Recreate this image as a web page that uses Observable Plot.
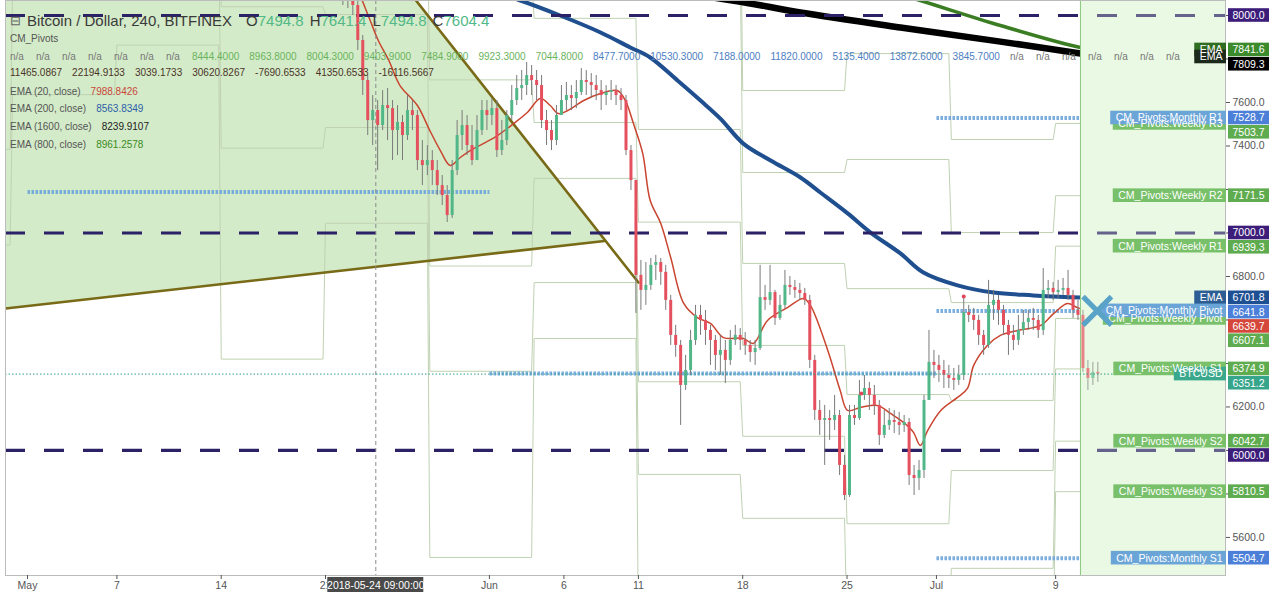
<!DOCTYPE html>
<html><head><meta charset="utf-8">
<script src="https://cdn.jsdelivr.net/npm/d3@7"></script>
<script src="https://cdn.jsdelivr.net/npm/@observablehq/plot@0.6"></script>
<style>
html,body{margin:0;padding:0;background:#fff;}
#wrap{position:relative;width:1280px;height:595px;overflow:hidden;font-family:"Liberation Sans",Arial,sans-serif;}
#legend{position:absolute;left:0;top:0;width:1280px;height:160px;pointer-events:none;}
.row{position:absolute;left:10px;white-space:nowrap;font-size:10px;line-height:14px;display:flex;gap:10px;color:#555;}
.title{left:10px;font-size:15px;line-height:16px;color:#3a3a3a;gap:0;}
.ico{display:inline-block;width:17px;font-size:13px;color:#666;}
.ohlc{display:inline-block;margin-left:6px;}
.g{color:#53b987;}
.wk{color:#69b35c;}
.mo{color:#4c7ec2;}
.na{color:#777;display:inline-block;min-width:16px;}
.yr{color:#4a3428;}
</style></head>
<body><div id="wrap"><div id="chart"></div><div id="legend"></div></div>
<script>
// ---------------- DATA ----------------
const xDomain = ["2018-04-29T12:34:00Z", "2018-07-20T09:36:00Z"];
const yDomain = [5425, 8069];
const yTicks = [5600, 5800, 6000, 6200, 6400, 6600, 6800, 7000, 7200, 7400, 7600, 7800, 8000];
const xTickDates = ["2018-05-01","2018-05-07","2018-05-14","2018-05-21","2018-06-01","2018-06-06","2018-06-11","2018-06-18","2018-06-25","2018-07-01","2018-07-09"];
const xTickLabels = ["May","7","14","21","Jun","6","11","18","25","Jul","9"];

// 8-hour candles starting 2018-05-22 00:00 UTC
const candleStart = "2018-05-22T00:00:00Z";
const candleHours = 8;
const firstOpen = 8150;
const close = [
8115,8092,8046,7885,7701,7517,7563,7494,7586,7572,
7471,7508,7448,7563,7540,7333,7310,7333,7287,7218,
7172,7080,7287,7448,7494,7402,7333,7471,7563,7540,
7572,7379,7425,7540,7609,7664,7678,7724,7701,7678,
7517,7471,7425,7540,7609,7632,7618,7646,7701,7692,
7678,7655,7632,7646,7655,7632,7609,7379,7241,6805,
6736,6759,6851,6864,6819,6690,6529,6483,6299,6368,
6506,6621,6598,6552,6506,6437,6460,6414,6506,6529,
6506,6483,6450,6469,6703,6690,6726,6607,6667,6759,
6749,6736,6722,6690,6414,6184,6138,6147,6138,6161,
5931,5793,6161,6147,6253,6285,6253,6207,6069,6115,
6138,6129,6115,6129,5885,5871,5908,6230,6405,6391,
6368,6345,6331,6322,6345,6634,6621,6598,6529,6483,
6667,6690,6644,6575,6529,6506,6552,6588,6607,6598,
6552,6736,6745,6726,6736,6745,6713,6644,6621,6377,
6331,6359,6351.2];
const high = [
8184,8161,8115,8069,7908,7724,7632,7609,7655,7664,
7609,7586,7540,7632,7609,7563,7425,7402,7379,7333,
7264,7218,7333,7517,7563,7540,7494,7540,7609,7609,
7618,7609,7517,7563,7678,7724,7747,7784,7770,7747,
7724,7563,7517,7586,7678,7692,7678,7701,7756,7747,
7733,7724,7701,7678,7701,7678,7664,7632,7402,7241,
6874,6864,6883,6897,6883,6851,6713,6575,6506,6437,
6552,6667,6667,6644,6575,6529,6529,6506,6552,6575,
6561,6542,6506,6506,6851,6759,6851,6736,6713,6828,
6800,6782,6768,6745,6713,6437,6230,6207,6184,6253,
6184,5977,6207,6207,6322,6345,6313,6299,6230,6184,
6193,6184,6175,6161,6147,5931,5954,6253,6552,6460,
6437,6414,6391,6377,6391,6713,6667,6653,6621,6552,
6782,6736,6713,6667,6598,6575,6621,6644,6644,6653,
6621,6837,6782,6772,6782,6791,6828,6736,6690,6644,
6414,6405,6405];
const low = [
8046,8032,8000,7839,7632,7448,7402,7287,7471,7425,
7333,7356,7333,7425,7471,7287,7218,7264,7218,7172,
7126,7048,7067,7264,7379,7356,7310,7333,7448,7471,
7494,7347,7356,7402,7517,7586,7609,7632,7632,7609,
7480,7402,7379,7402,7540,7563,7563,7572,7632,7632,
7618,7609,7563,7586,7609,7586,7563,7356,7195,6630,
6644,6667,6736,6782,6759,6644,6483,6428,6115,6276,
6345,6483,6529,6483,6391,6368,6345,6308,6391,6483,
6460,6437,6405,6391,6460,6644,6667,6575,6598,6650,
6713,6699,6690,6667,6377,6138,6069,5931,6046,6092,
5885,5770,5784,6115,6138,6230,6184,6161,6023,6055,
6092,6078,6069,6083,5839,5793,5816,5871,6230,6331,
6313,6285,6285,6276,6299,6322,6588,6552,6483,6437,
6469,6598,6575,6529,6437,6460,6483,6529,6552,6552,
6515,6529,6699,6690,6699,6713,6690,6607,6598,6359,
6276,6299,6313];

// EMA lines (time, value)
const ema20Time = ["2018-05-23T08:00","2018-05-24T00:00","2018-05-24T13:00","2018-05-25T06:00","2018-05-26T00:00","2018-05-27T04:00","2018-05-28T00:00","2018-05-28T17:00","2018-05-29T09:00","2018-05-30T01:00","2018-05-30T17:00","2018-05-31T14:00","2018-06-01T13:00","2018-06-02T15:00","2018-06-03T13:00","2018-06-04T10:00","2018-06-05T02:00","2018-06-05T15:00","2018-06-06T06:00","2018-06-07T08:00","2018-06-08T11:00","2018-06-09T14:00","2018-06-10T03:00","2018-06-10T16:00","2018-06-11T07:00","2018-06-11T19:00","2018-06-12T12:00","2018-06-13T04:00","2018-06-14T01:00","2018-06-14T23:00","2018-06-15T20:00","2018-06-16T17:00","2018-06-18T01:00","2018-06-18T17:00","2018-06-19T16:00","2018-06-21T00:00","2018-06-22T02:00","2018-06-22T13:00","2018-06-23T17:00","2018-06-24T13:00","2018-06-25T01:00","2018-06-25T22:00","2018-06-27T01:00","2018-06-27T22:00","2018-06-28T19:00","2018-06-29T11:00","2018-06-29T22:00","2018-06-30T10:00","2018-07-01T07:00","2018-07-02T10:00","2018-07-03T02:00","2018-07-03T12:00","2018-07-04T10:00","2018-07-05T07:00","2018-07-06T11:00","2018-07-08T00:00","2018-07-08T21:00","2018-07-09T19:00","2018-07-10T11:00","2018-07-11T00:00","2018-07-11T21:00"];
const ema20Value = [8092,7977,7885,7793,7678,7586,7471,7379,7310,7347,7379,7411,7448,7503,7554,7618,7586,7549,7563,7609,7641,7655,7609,7503,7365,7149,7044,6887,6676,6611,6584,6519,6515,6492,6598,6657,6699,6667,6460,6276,6184,6198,6207,6170,6129,6083,6023,6092,6184,6244,6285,6391,6483,6529,6552,6575,6630,6676,6657,6645,6639.7];
const ema200Time = ["2018-05-31T10:00","2018-06-03T02:00","2018-06-05T18:00","2018-06-08T11:00","2018-06-10T11:00","2018-06-11T19:00","2018-06-13T15:00","2018-06-15T04:00","2018-06-16T12:00","2018-06-18T01:00","2018-06-19T21:00","2018-06-21T21:00","2018-06-23T05:00","2018-06-25T01:00","2018-06-26T14:00","2018-06-28T14:00","2018-06-30T03:00","2018-07-02T10:00","2018-07-04T20:00","2018-07-07T12:00","2018-07-10T16:00","2018-07-12T00:00"];
const ema200Value = [8124,8069,8000,7922,7853,7807,7701,7609,7526,7411,7333,7255,7186,7090,7002,6906,6818,6759,6726,6713,6703,6701.8];
const ema1600Time = ["2018-06-13T20:00","2018-06-18T03:00","2018-06-21T21:00","2018-06-28T14:00","2018-07-05T07:00","2018-07-10T16:00","2018-07-12T00:00"];
const ema1600Value = [8106,8060,8014,7945,7880,7825,7809.3];
const ema800Time = ["2018-06-27T06:00","2018-06-29T22:00","2018-07-05T07:00","2018-07-10T16:00","2018-07-12T00:00"];
const ema800Value = [8124,8069,7954,7853,7841.6];

// Weekly pivots (CM_Pivots)
const weekStart = ["2018-04-23","2018-04-30","2018-05-07","2018-05-14","2018-05-21","2018-05-28","2018-06-04","2018-06-11","2018-06-18","2018-06-25","2018-07-02","2018-07-09"];
const weekR3 = [10575,10966,11284,11280,9923.3,9528,8723,8636,7655,7825,7430,7503.7];
const weekR2 = [9805,10363,10637,10630,9403.9,9044,8244,8210,7278,7338,7002,7171.5];
const weekR1 = [9365,9856,10144,9660,8963.8,8188,7987,7476,6860,6744,6680,6939.3];
const weekP  = [8595,9253,9497,9010,8444.4,7704,7508,7050,6483,6257,6230,6607.1];
const weekS1 = [8155,8746,9004,8040,8004.3,6848,7251,6316,6065,5663,5908,6374.9];
const weekS2 = [7385,8143,8357,7390,7484.9,6364,6772,5890,5688,5176,5458,6042.7];
const weekS3 = [6945,7636,7864,6420,7044.8,5508,6515,5156,5270,4582,5122,5810.5];
const pivotEnd = "2018-07-12T00:00:00Z";

// Monthly pivot levels visible (dotted)
const monthStart = ["2018-05-01","2018-06-01","2018-07-01","2018-07-01","2018-07-01"];
const monthEnd   = ["2018-06-01","2018-07-01","2018-07-12","2018-07-12","2018-07-12"];
const monthLevel = [7188.0, 6354, 7528.7, 6641.8, 5504.7];

// Trend lines (olive) and shaded triangle
const diagTime = ["2018-04-29T12:34:00Z","2018-06-11T00:00:00Z"];
const diagValue = [10463, 6772];
const lowTime = ["2018-04-29T12:34:00Z","2018-06-08T17:17:00Z"];
const lowValue = [6653, 6963];

const roundLevels = [6000, 7000, 8000];
const lastPrice = 6351.2;
const futureStart = "2018-07-10T16:00:00Z";
const crossTime = "2018-05-24T09:00:00Z";
const crossLabel = "2018-05-24 09:00:00";
const alertTime = ["2018-06-25T23:00:00Z","2018-07-02T20:00:00Z"];
const alertValue = [6262, 6708];
const markerTime = "2018-07-11T19:00:00Z";
const markerValue = 6641.8;

// Right scale labels
const labelValues = [8000, 7841.6, 7809.3, 7528.7, 7503.7, 7171.5, 7000, 6939.3, 6701.8, 6641.8, 6639.7, 6607.1, 6374.9, 6351.2, 6042.7, 6000, 5810.5, 5504.7];
const labelKinds  = ["level","ema800","ema1600","monthly","weekly","weekly","level","weekly","ema200","monthly","ema20","weekly","weekly","price","weekly","level","weekly","monthly"];
const labelTags   = ["","EMA","EMA","CM_Pivots:Monthly R1","CM_Pivots:Weekly R3","CM_Pivots:Weekly R2","","CM_Pivots:Weekly R1","EMA","CM_Pivots:Monthly Pivot","","CM_Pivots:Weekly Pivot","CM_Pivots:Weekly S1","BTCUSD","CM_Pivots:Weekly S2","","CM_Pivots:Weekly S3","CM_Pivots:Monthly S1"];

// Legend texts
const titleText = "Bitcoin / Dollar, 240, BITFINEX";
const ohlcKeys = ["O","H","L","C"];
const ohlcValues = ["7494.8","7641.4","7494.8","7604.4"];
const indicatorName = "CM_Pivots";
const dailyLegend = ["n/a","n/a","n/a","n/a","n/a","n/a","n/a"];
const weeklyLegend = ["8444.4000","8963.8000","8004.3000","9403.9000","7484.9000","9923.3000","7044.8000"];
const monthlyLegend = ["8477.7000","10530.3000","7188.0000","11820.0000","5135.4000","13872.6000","3845.7000"];
const yearlyLegend = ["n/a","n/a","n/a","n/a","n/a","n/a","n/a"];
const extraLegend = ["11465.0867","22194.9133","3039.1733","30620.8267","-7690.6533","41350.6533","-16116.5667"];
const emaNames = ["EMA (20, close)","EMA (200, close)","EMA (1600, close)","EMA (800, close)"];
const emaLegendValues = ["7988.8426","8563.8349","8239.9107","8961.2578"];

// ---------------- BUILD ----------------
const T = s => new Date(/Z$/.test(s) ? s : (s.length === 10 ? s + "T00:00:00Z" : s + ":00Z"));
const X0 = T(xDomain[0]), X1 = T(xDomain[1]);
const H = 3600e3;

const candles = close.map((c, i) => {
  const start = +T(candleStart) + i * candleHours * H;
  return {t: new Date(start + candleHours * H / 2), o: i ? close[i - 1] : firstOpen, h: high[i], l: low[i], c};
});
const line = (ts, vs) => ts.map((t, i) => ({t: T(t), v: vs[i]}));
const ema20 = line(ema20Time, ema20Value), ema200 = line(ema200Time, ema200Value);
const ema1600 = line(ema1600Time, ema1600Value), ema800 = line(ema800Time, ema800Value);

const levelSets = {R3: weekR3, R2: weekR2, R1: weekR1, P: weekP, S1: weekS1, S2: weekS2, S3: weekS3};
const pivotRows = [];
for (const [name, arr] of Object.entries(levelSets)) {
  weekStart.forEach((ws, w) => {
    const s = T(ws);
    const e = w + 1 < weekStart.length ? T(weekStart[w + 1]) : T(pivotEnd);
    pivotRows.push({k: name, t: s, v: arr[w]});
    pivotRows.push({k: name, t: new Date(+e - 4 * H), v: arr[w]});
  });
}
const monthRows = monthLevel.map((v, i) => ({t1: T(monthStart[i]), t2: T(monthEnd[i]), v}));
const triangle = [
  {t: T(lowTime[0]), lo: lowValue[0], hi: diagValue[0]},
  {t: T(lowTime[1]), lo: lowValue[1], hi: lowValue[1]}
];
const trendRows = [...line(diagTime, diagValue).map(d => ({...d, k: "a"})), ...line(lowTime, lowValue).map(d => ({...d, k: "b"}))];

const W = 1280, HT = 595, mL = 5, mR = 55, mT = 0, mB = 20;
const xS = d3.scaleUtc().domain([X0, X1]).range([mL, W - mR]);
const yS = d3.scaleLinear().domain(yDomain).range([HT - mB, mT]);

// Right labels layout
const valueBg = {level:"#3c1e7a", ema800:"#3b8a2b", ema1600:"#000000", monthly:"#4b7fd8", weekly:"#5fac50", ema200:"#1f4f93", ema20:"#d4473a", price:"#37a58b"};
const tagBg = {ema800:"#2f6d22", ema1600:"#1c2a1c", monthly:"#6ba5d8", weekly:"#78c06a", ema200:"#2c5d93", price:"#3aa88c"};
const tagLayer = {weekly:0, ema800:1, monthly:2, ema1600:2, ema200:2, price:2, ema20:2, level:2};
const order = labelValues.map((v, i) => i).sort((a, b) => labelValues[b] - labelValues[a]);
const placed = new Array(labelValues.length);
let prev = -Infinity;
for (const i of order) { const p = Math.max(yS(labelValues[i]), prev + 14.3); placed[i] = p; prev = p; }
const boxH = 6.8;
const valueBoxes = labelValues.map((v, i) => ({
  y1: yS.invert(placed[i] - boxH), y2: yS.invert(placed[i] + boxH), yc: yS.invert(placed[i]),
  x1: xS.invert(W - mR + 3), x2: xS.invert(W - mR + 44), xt: xS.invert(W - mR + 7),
  text: v.toFixed(1), bg: valueBg[labelKinds[i]]
}));
// axis tick labels fully covered by a value box are left blank, as on the original scale
const coveredTick = v => placed.some(p => Math.abs(p - yS(v)) < boxH);
const ctx = document.createElement("canvas").getContext("2d");
ctx.font = "10.5px 'Liberation Sans'";
const tagBoxes = labelTags.map((tag, i) => ({tag, i})).filter(d => d.tag)
  .sort((a, b) => tagLayer[labelKinds[a.i]] - tagLayer[labelKinds[b.i]])
  .map(({tag, i}) => {
    const w = ctx.measureText(tag).width;
    const py = yS(labelValues[i]);
    return {
      x1: xS.invert(W - mR + 1 - w - 9), x2: xS.invert(W - mR + 1), xt: xS.invert(W - mR - 3),
      y1: yS.invert(py - boxH), y2: yS.invert(py + boxH), yc: labelValues[i],
      text: tag, bg: tagBg[labelKinds[i]]
    };
  });

const tickMap = new Map(xTickDates.map((d, i) => [+T(d), xTickLabels[i]]));
const up = d => d.c >= d.o;

const chart = Plot.plot({
  width: W, height: HT, marginTop: mT, marginBottom: mB, marginLeft: mL, marginRight: mR,
  style: {fontFamily: "'Liberation Sans', Arial, sans-serif", background: "#ffffff", overflow: "visible"},
  x: {type: "utc", domain: [X0, X1], axis: null},
  y: {domain: yDomain, axis: null},
  marks: [
    Plot.areaY(triangle, {x: "t", y1: "lo", y2: "hi", fill: "#d4ebc9", clip: true}),
    Plot.line(pivotRows, {x: "t", y: "v", z: "k", stroke: "#bfd2b2", strokeWidth: 1, clip: true}),
    Plot.link(monthRows, {x1: "t1", x2: "t2", y1: "v", y2: "v", stroke: "#6ea6dc", strokeWidth: 4, strokeDasharray: "2.6,1.4", strokeOpacity: 0.9, clip: true}),
    Plot.line(trendRows, {x: "t", y: "v", z: "k", stroke: "#786a16", strokeWidth: 2.6, clip: true}),
    Plot.line(ema200, {x: "t", y: "v", stroke: "#1f4f8e", strokeWidth: 4, curve: "catmull-rom", clip: true}),
    Plot.line(ema1600, {x: "t", y: "v", stroke: "#000000", strokeWidth: 6.5, curve: "catmull-rom", clip: true}),
    Plot.line(ema800, {x: "t", y: "v", stroke: "#3a7d23", strokeWidth: 3.5, curve: "catmull-rom", clip: true}),
    Plot.line(ema20, {x: "t", y: "v", stroke: "#c9452f", strokeWidth: 1.5, curve: "catmull-rom", clip: true}),
    Plot.rect([{a: T(futureStart), b: X1}], {x1: "a", x2: "b", fill: "#eafae3"}),
    Plot.ruleX([T(futureStart)], {stroke: "#62b553", strokeWidth: 1}),
    Plot.ruleY(roundLevels, {stroke: "#2b2166", strokeWidth: 3.2, strokeDasharray: "20,19"}),
    Plot.ruleX([T(crossTime)], {stroke: "#8a8a8a", strokeWidth: 1, strokeDasharray: "4,3"}),
    Plot.ruleX(candles, {x: "t", y1: "l", y2: "h", stroke: "#7a7a7a", strokeWidth: 1, clip: true}),
    Plot.ruleX(candles, {x: "t", y1: "o", y2: "c", stroke: d => up(d) ? "#52b788" : "#e5505e", strokeWidth: 3, clip: true}),
    Plot.rect([{a: T(futureStart), b: X1}], {x1: "a", x2: "b", fill: "#eafae3", fillOpacity: 0.3}),
    Plot.ruleY([lastPrice], {stroke: "#2f9e88", strokeWidth: 1, strokeDasharray: "1.5,2"}),
    Plot.dot(alertTime.map((t, i) => ({t: T(t), v: alertValue[i]})), {x: "t", y: "v", r: 2, fill: "#e2465a"}),
    Plot.frame({stroke: "#bcbcbc"}),
    Plot.axisY(yTicks, {anchor: "right", tickSize: 4, tickPadding: 3, tickFormat: d => coveredTick(d) ? "" : d.toFixed(1), fontSize: 10.5, color: "#555"}),
    Plot.axisX(xTickDates.map(T), {anchor: "bottom", tickSize: 4, tickPadding: 2, tickFormat: d => tickMap.get(+d), fontSize: 10.5, color: "#555"}),
    Plot.rect(tagBoxes, {x1: "x1", x2: "x2", y1: "y1", y2: "y2", fill: "bg"}),
    Plot.text(tagBoxes, {x: "xt", y: "yc", text: "text", textAnchor: "end", fill: "#ffffff", fontSize: 10.5}),
    Plot.dot([{t: T(markerTime), v: markerValue}], {x: "t", y: "v", symbol: "times", r: 13, stroke: "#5aa3c8", strokeWidth: 5}),
    Plot.rect(valueBoxes, {x1: "x1", x2: "x2", y1: "y1", y2: "y2", fill: "bg"}),
    Plot.text(valueBoxes, {x: "xt", y: "yc", text: "text", textAnchor: "start", fill: "#ffffff", fontSize: 10.5}),
    Plot.rect([T(crossTime)], {x1: d => d, x2: d => d, y1: () => yDomain[0], y2: () => yDomain[0], insetLeft: -48, insetRight: -48, insetTop: 2, insetBottom: -17, fill: "#4a4a4a"}),
    Plot.text([T(crossTime)], {x: d => d, y: () => yDomain[0], dy: 10, text: () => crossLabel, fill: "#ffffff", fontSize: 10.5})
  ]
});
document.getElementById("chart").appendChild(chart);

// Legend
const span = (cls, t) => `<span class="${cls}">${t}</span>`;
const rows = [];
rows.push(`<div class="row title" style="top:13px"><span class="ico">⊟</span><span>${titleText}</span><span style="width:8px"></span>` +
  ohlcKeys.map((k, i) => `<span class="ohlc">${k}<span class="g">${ohlcValues[i]}</span></span>`).join("") + `</div>`);
rows.push(`<div class="row" style="top:32px">${indicatorName}</div>`);
rows.push(`<div class="row" style="top:50px">` + dailyLegend.map(t => span("na", t)).join("") + weeklyLegend.map(t => span("wk", t)).join("") +
  monthlyLegend.map(t => span("mo", t)).join("") + yearlyLegend.map(t => span("na", t)).join("") + `</div>`);
rows.push(`<div class="row" style="top:66px">` + extraLegend.map(t => span("yr", t)).join("") + `</div>`);
const emaColors = ["#c9473a", "#2c5ea8", "#222222", "#3b8a1f"];
const emaTops = [85, 102, 120, 138];
emaNames.forEach((n, i) => rows.push(`<div class="row" style="top:${emaTops[i]}px"><span>${n}</span><span style="color:${emaColors[i]}">${emaLegendValues[i]}</span></div>`));
document.getElementById("legend").innerHTML = rows.join("");
</script>
</body></html>
